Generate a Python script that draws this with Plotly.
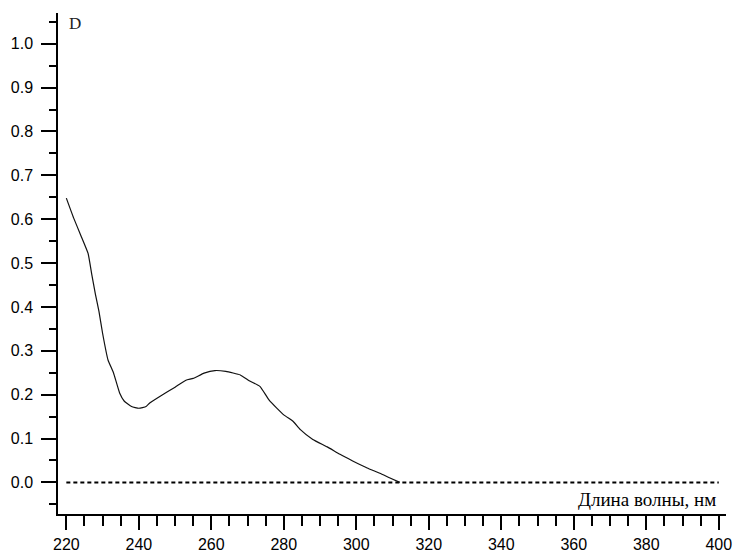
import plotly.graph_objects as go

wavelength = [220, 222, 224, 226, 227, 228, 229, 230, 231.5, 233, 234.7, 236, 238, 240,
              242, 243, 246, 250, 253, 255, 258, 261, 264, 268, 270.6, 273.4, 276, 280,
              282.6, 284.5, 288, 292, 295.5, 299, 303, 306.5, 309.3, 312]
absorbance = [0.648, 0.603, 0.563, 0.522, 0.475, 0.430, 0.390, 0.340, 0.279, 0.250, 0.204,
              0.185, 0.173, 0.169, 0.173, 0.181, 0.197, 0.217, 0.233, 0.237, 0.249, 0.255,
              0.253, 0.245, 0.231, 0.219, 0.187, 0.154, 0.139, 0.121, 0.098, 0.081, 0.064,
              0.049, 0.033, 0.021, 0.010, 0.0]
baseline_x = [220, 400]
baseline_y = [0, 0]

x_title = "Длина волны, нм"
y_title = "D"

fig = go.Figure()
fig.add_trace(go.Scatter(x=baseline_x, y=baseline_y, mode="lines",
                         line=dict(color="black", width=2, dash="4px,3px"),
                         hoverinfo="skip", showlegend=False))
fig.add_trace(go.Scatter(x=wavelength, y=absorbance, mode="lines",
                         line=dict(color="#111111", width=1.2, shape="spline", smoothing=0.4),
                         showlegend=False))

xtickfont = dict(family="Liberation Sans", size=16, color="black")
ytickfont = dict(family="Liberation Sans", size=16, color="black")
fig.update_xaxes(range=[217.7, 402], showgrid=False, zeroline=False, automargin=False,
                 showline=True, linecolor="black", linewidth=1.5,
                 ticks="outside", ticklen=14, tickwidth=1.5, tickcolor="black",
                 tick0=220, dtick=20, tickfont=xtickfont, ticklabelstandoff=1,
                 minor=dict(ticks="outside", ticklen=10, tickwidth=1.5,
                            tickcolor="black", dtick=5, tick0=220, showgrid=False))
fig.update_yaxes(range=[-0.072, 1.07], showgrid=False, zeroline=False, automargin=False,
                 showline=True, linecolor="black", linewidth=1.5,
                 ticks="outside", ticklen=15, tickwidth=1.5, tickcolor="black",
                 tick0=0, dtick=0.1, tickformat=".1f", tickfont=ytickfont,
                 ticklabelstandoff=5,
                 minor=dict(ticks="outside", ticklen=7, tickwidth=1.5,
                            tickcolor="black", dtick=0.05, tick0=0, showgrid=False))

fig.add_annotation(text=y_title, xref="paper", yref="paper",
                   x=0.0135, y=0.98, xanchor="left", yanchor="middle",
                   showarrow=False,
                   font=dict(family="Liberation Serif", size=17, color="#222222",
                             weight="normal"))
fig.add_annotation(text=x_title, xref="paper", yref="paper",
                   x=0.988, y=0.028, xanchor="right", yanchor="middle",
                   showarrow=False,
                   font=dict(family="Liberation Serif", size=19, color="black"))

fig.update_layout(width=734, height=556,
                  margin=dict(l=58, r=8, t=13, b=42),
                  plot_bgcolor="white", paper_bgcolor="white")

fig.write_html("out.html")
